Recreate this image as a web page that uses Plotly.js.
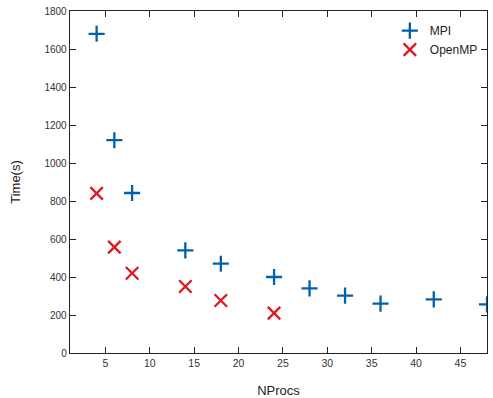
<!DOCTYPE html>
<html>
<head>
<meta charset="utf-8">
<script src="https://cdn.plot.ly/plotly-3.0.1.min.js"></script>
<style>html,body{margin:0;padding:0;background:#fff}#chart{width:493px;height:398px}</style>
</head>
<body>
<div id="chart"></div>
<script>
var mpiProcs = [4, 6, 8, 14, 18, 24, 28, 32, 36, 42, 48];
var mpiTime = [1680, 1120, 842, 540, 470, 400, 340, 302, 260, 282, 256];
var ompProcs = [4, 6, 8, 14, 18, 24];
var ompTime = [840, 557, 420, 350, 276, 210];
var xTicks = [5, 10, 15, 20, 25, 30, 35, 40, 45];
var yTicks = [0, 200, 400, 600, 800, 1000, 1200, 1400, 1600, 1800];

var font = {family: 'Liberation Sans, Arial, sans-serif', color: '#222', size: 10};

var traces = [
  {x: mpiProcs, y: mpiTime, name: 'MPI', type: 'scatter', mode: 'markers', cliponaxis: true,
   marker: {symbol: 'cross-thin-open', size: 11.5, color: '#0060ad', line: {color: '#0060ad', width: 2.3}}},
  {x: ompProcs, y: ompTime, name: 'OpenMP', type: 'scatter', mode: 'markers', cliponaxis: true,
   marker: {symbol: 'x-thin-open', size: 12.5, color: '#dd181f', line: {color: '#dd181f', width: 2.3}}}
];

var layout = {
  width: 493, height: 398,
  margin: {l: 70, r: 6, t: 11, b: 45},
  paper_bgcolor: '#fff', plot_bgcolor: '#fff',
  font: font,
  showlegend: true,
  legend: {x: 0.99, xanchor: 'right', y: 0.985, yanchor: 'top', bgcolor: 'rgba(0,0,0,0)',
           font: {family: font.family, size: 12, color: '#222'}, itemwidth: 30, tracegroupgap: 0},
  xaxis: {
    range: [1, 48], tickvals: xTicks, ticktext: xTicks.map(String),
    ticks: 'inside', ticklen: 6, tickwidth: 1, tickcolor: '#222',
    showline: true, linecolor: '#222', linewidth: 1.3, mirror: 'ticks',
    showgrid: false, zeroline: false,
    tickfont: {family: font.family, size: 10.5, color: '#333'},
    title: {text: 'NProcs', font: {family: font.family, size: 13, color: '#222'}, standoff: 20}
  },
  yaxis: {
    range: [0, 1800], tickvals: yTicks, ticktext: yTicks.map(String),
    ticks: 'inside', ticklen: 6, tickwidth: 1, tickcolor: '#222',
    showline: true, linecolor: '#222', linewidth: 1.3, mirror: 'ticks',
    showgrid: false, zeroline: false,
    tickfont: {family: font.family, size: 10, color: '#333'},
    title: {text: 'Time(s)', font: {family: font.family, size: 13, color: '#222'}, standoff: 21}
  }
};

Plotly.newPlot('chart', traces, layout, {staticPlot: true, displayModeBar: false});
</script>
</body>
</html>
